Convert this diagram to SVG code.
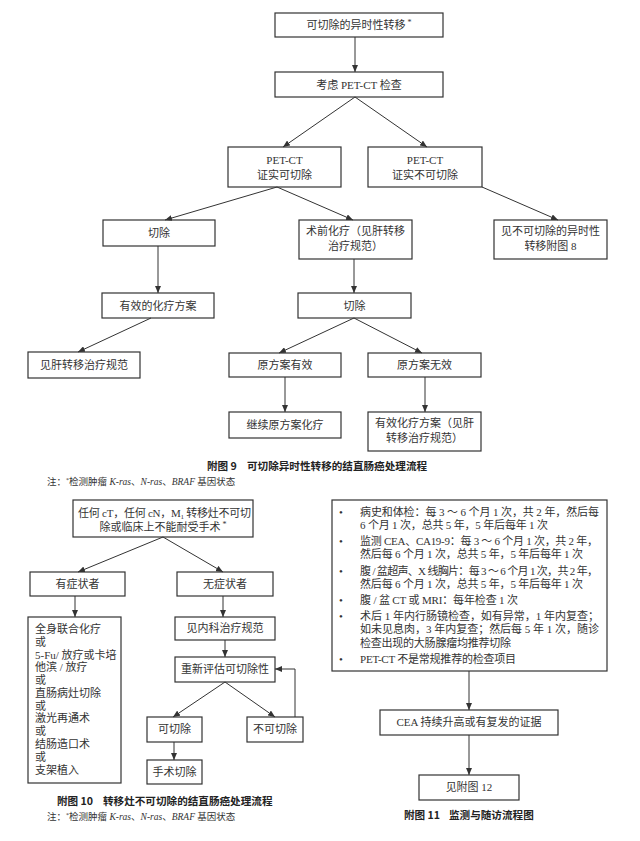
<svg xmlns="http://www.w3.org/2000/svg" width="640" height="841" viewBox="0 0 640 841">
<style>
  .bx { fill: #ffffff; stroke: #333333; stroke-width: 1.2; }
  .t { font-family: "Liberation Serif", "Noto Sans CJK SC", serif; font-size: 11px; fill: #333333; }
  .c { text-anchor: middle; }
  .cap { font-family: "Noto Sans CJK SC", "Liberation Sans", sans-serif; font-size: 10.6px; font-weight: bold; fill: #222222; }
  .note { font-family: "Liberation Serif", "Noto Sans CJK SC", serif; font-size: 9.5px; fill: #333333; }
  .ln { fill: none; stroke: #333333; stroke-width: 1; }
  .ar { marker-end: url(#ah); }
</style>
<defs>
  <marker id="ah" markerUnits="userSpaceOnUse" markerWidth="7" markerHeight="6" refX="7" refY="3" orient="auto">
    <path d="M0,0 L7,3 L0,6 z" fill="#333333"/>
  </marker>
</defs>
<rect width="640" height="841" fill="#ffffff"/>

<!-- ===== Figure 9 ===== -->
<g id="f9-n1"><rect class="bx" x="275" y="13" width="168" height="24"/><text class="t c" x="359" y="29">可切除的异时性转移<tspan font-size="8" dy="-4"> *</tspan></text></g>
<g id="f9-n2"><rect class="bx" x="275" y="72" width="168" height="25"/><text class="t c" x="359" y="89">考虑 PET-CT 检查</text></g>
<g id="f9-n3"><rect class="bx" x="228" y="147" width="113" height="40"/><text class="t c" x="284.5" y="164">PET-CT</text><text class="t c" x="284.5" y="179">证实可切除</text></g>
<g id="f9-n4"><rect class="bx" x="368" y="147" width="114" height="40"/><text class="t c" x="425" y="164">PET-CT</text><text class="t c" x="425" y="179">证实不可切除</text></g>
<g id="f9-n5"><rect class="bx" x="103" y="220" width="112" height="26"/><text class="t c" x="159" y="237">切除</text></g>
<g id="f9-n6"><rect class="bx" x="299" y="220" width="113" height="39"/><text class="t c" x="355.5" y="235">术前化疗（见肝转移</text><text class="t c" x="355.5" y="250">治疗规范）</text></g>
<g id="f9-n7"><rect class="bx" x="494" y="220" width="113" height="39"/><text class="t c" x="550.5" y="235">见不可切除的异时性</text><text class="t c" x="550.5" y="250">转移附图 8</text></g>
<g id="f9-n8"><rect class="bx" x="102" y="293" width="112" height="25"/><text class="t c" x="158" y="310">有效的化疗方案</text></g>
<g id="f9-n9"><rect class="bx" x="28" y="352" width="112" height="26"/><text class="t c" x="84" y="369">见肝转移治疗规范</text></g>
<g id="f9-n10"><rect class="bx" x="298" y="293" width="113" height="25"/><text class="t c" x="354.5" y="310">切除</text></g>
<g id="f9-n11"><rect class="bx" x="229" y="353" width="112" height="24"/><text class="t c" x="285" y="369">原方案有效</text></g>
<g id="f9-n12"><rect class="bx" x="368" y="353" width="113" height="24"/><text class="t c" x="424.5" y="369">原方案无效</text></g>
<g id="f9-n13"><rect class="bx" x="229" y="412" width="112" height="26"/><text class="t c" x="285" y="429">继续原方案化疗</text></g>
<g id="f9-n14"><rect class="bx" x="368" y="412" width="113" height="39"/><text class="t c" x="424.5" y="427">有效化疗方案（见肝</text><text class="t c" x="424.5" y="442">转移治疗规范）</text></g>

<g id="f9-connectors">
  <line class="ln ar" x1="355" y1="37" x2="355" y2="72"/>
  <line class="ln ar" x1="355" y1="97" x2="283" y2="147"/>
  <line class="ln ar" x1="355" y1="97" x2="427" y2="147"/>
  <line class="ln ar" x1="277" y1="187" x2="165" y2="220"/>
  <line class="ln ar" x1="277" y1="187" x2="353" y2="220"/>
  <line class="ln ar" x1="482" y1="187" x2="558" y2="220"/>
  <line class="ln ar" x1="158" y1="246" x2="158" y2="293"/>
  <line class="ln ar" x1="151" y1="318" x2="78" y2="352"/>
  <line class="ln ar" x1="354" y1="259" x2="354" y2="293"/>
  <line class="ln ar" x1="354" y1="318" x2="279" y2="353"/>
  <line class="ln ar" x1="354" y1="318" x2="422" y2="353"/>
  <line class="ln ar" x1="285" y1="377" x2="285" y2="412"/>
  <line class="ln ar" x1="425" y1="377" x2="425" y2="412"/>
</g>

<text class="cap" x="207" y="470">附图 9</text>
<text class="cap" x="247" y="470">可切除异时性转移的结直肠癌处理流程</text>
<text class="note" x="47" y="485">注：<tspan font-size="6" dy="-3">*</tspan><tspan dy="3">检测肿瘤 </tspan><tspan font-style="italic">K-ras</tspan>、<tspan font-style="italic">N-ras</tspan>、<tspan font-style="italic">BRAF</tspan> 基因状态</text>

<!-- ===== Figure 10 ===== -->
<g id="f10-n1"><rect class="bx" x="73" y="500" width="180" height="37"/><text class="t" x="78" y="517" textLength="173">任何 cT，任何 cN，M<tspan font-size="7" dy="2">1</tspan><tspan dy="-2"> 转移灶不可切</tspan></text><text class="t c" x="163" y="531">除或临床上不能耐受手术<tspan font-size="8" dy="-4"> *</tspan></text></g>
<g id="f10-n2"><rect class="bx" x="30" y="572" width="95" height="24"/><text class="t c" x="77.5" y="588">有症状者</text></g>
<g id="f10-n3"><rect class="bx" x="177" y="572" width="96" height="24"/><text class="t c" x="225" y="588">无症状者</text></g>
<g id="f10-n4"><rect class="bx" x="28" y="617" width="93" height="166"/>
  <text class="t" x="35" y="633">全身联合化疗</text>
  <text class="t" x="35" y="646">或</text>
  <text class="t" x="35" y="659">5-Fu/ 放疗或卡培</text>
  <text class="t" x="35" y="671">他滨 / 放疗</text>
  <text class="t" x="35" y="684">或</text>
  <text class="t" x="35" y="697">直肠病灶切除</text>
  <text class="t" x="35" y="710">或</text>
  <text class="t" x="35" y="722">激光再通术</text>
  <text class="t" x="35" y="735">或</text>
  <text class="t" x="35" y="748">结肠造口术</text>
  <text class="t" x="35" y="761">或</text>
  <text class="t" x="35" y="774">支架植入</text>
</g>
<g id="f10-n5"><rect class="bx" x="175" y="617" width="100" height="23"/><text class="t c" x="225" y="632">见内科治疗规范</text></g>
<g id="f10-n6"><rect class="bx" x="175" y="657" width="100" height="25"/><text class="t c" x="225" y="673">重新评估可切除性</text></g>
<g id="f10-n7"><rect class="bx" x="147" y="717" width="55" height="25"/><text class="t c" x="174.5" y="733">可切除</text></g>
<g id="f10-n8"><rect class="bx" x="247" y="717" width="56" height="25"/><text class="t c" x="275" y="733">不可切除</text></g>
<g id="f10-n9"><rect class="bx" x="147" y="760" width="55" height="24"/><text class="t c" x="174.5" y="776">手术切除</text></g>

<g id="f10-connectors">
  <line class="ln ar" x1="163" y1="537" x2="78" y2="572"/>
  <line class="ln ar" x1="163" y1="537" x2="223" y2="572"/>
  <line class="ln ar" x1="75" y1="596" x2="75" y2="617"/>
  <line class="ln ar" x1="223" y1="596" x2="223" y2="617"/>
  <line class="ln ar" x1="225" y1="640" x2="225" y2="657"/>
  <line class="ln ar" x1="225" y1="682" x2="173" y2="717"/>
  <line class="ln ar" x1="225" y1="682" x2="275" y2="717"/>
  <polyline class="ln ar" points="295,717 295,669 275,669"/>
  <line class="ln ar" x1="174" y1="742" x2="174" y2="760"/>
</g>

<text class="cap" x="57" y="805">附图 10</text>
<text class="cap" x="103" y="805">转移灶不可切除的结直肠癌处理流程</text>
<text class="note" x="47" y="820">注：<tspan font-size="6" dy="-3">*</tspan><tspan dy="3">检测肿瘤 </tspan><tspan font-style="italic">K-ras</tspan>、<tspan font-style="italic">N-ras</tspan>、<tspan font-style="italic">BRAF</tspan> 基因状态</text>

<!-- ===== Figure 11 ===== -->
<g id="f11-n1"><rect class="bx" x="332" y="500" width="275" height="171"/>
  <text class="t" x="339" y="516">•</text>
  <text class="t" x="360" y="516" textLength="239">病史和体检：每 3 ～ 6 个月 1 次，共 2 年，然后每</text>
  <text class="t" x="360" y="529" textLength="188">6 个月 1 次，总共 5 年，5 年后每年 1 次</text>
  <text class="t" x="339" y="545">•</text>
  <text class="t" x="360" y="545" textLength="238">监测 CEA、CA19-9：每 3 ～ 6 个月 1 次，共 2 年，</text>
  <text class="t" x="360" y="558" textLength="223">然后每 6 个月 1 次，总共 5 年，5 年后每年 1 次</text>
  <text class="t" x="339" y="575">•</text>
  <text class="t" x="360" y="575" textLength="238">腹 / 盆超声、X 线胸片：每 3 ～ 6 个月 1 次，共 2 年，</text>
  <text class="t" x="360" y="588" textLength="223">然后每 6 个月 1 次，总共 5 年，5 年后每年 1 次</text>
  <text class="t" x="339" y="604">•</text>
  <text class="t" x="360" y="604" textLength="158">腹 / 盆 CT 或 MRI：每年检查 1 次</text>
  <text class="t" x="339" y="620">•</text>
  <text class="t" x="360" y="620" textLength="239">术后 1 年内行肠镜检查，如有异常，1 年内复查；</text>
  <text class="t" x="360" y="633" textLength="239">如未见息肉，3 年内复查；然后每 5 年 1 次，随诊</text>
  <text class="t" x="360" y="647" textLength="151">检查出现的大肠腺瘤均推荐切除</text>
  <text class="t" x="339" y="663">•</text>
  <text class="t" x="360" y="663" textLength="156">PET-CT 不是常规推荐的检查项目</text>
</g>
<g id="f11-n2"><rect class="bx" x="380" y="710" width="178" height="25"/><text class="t c" x="469" y="726">CEA 持续升高或有复发的证据</text></g>
<g id="f11-n3"><rect class="bx" x="419" y="775" width="100" height="25"/><text class="t c" x="469" y="791">见附图 12</text></g>

<g id="f11-connectors">
  <line class="ln ar" x1="469" y1="671" x2="469" y2="710"/>
  <line class="ln ar" x1="469" y1="735" x2="469" y2="775"/>
</g>

<text class="cap" x="404" y="819">附图 11</text>
<text class="cap" x="449" y="819">监测与随访流程图</text>
</svg>
